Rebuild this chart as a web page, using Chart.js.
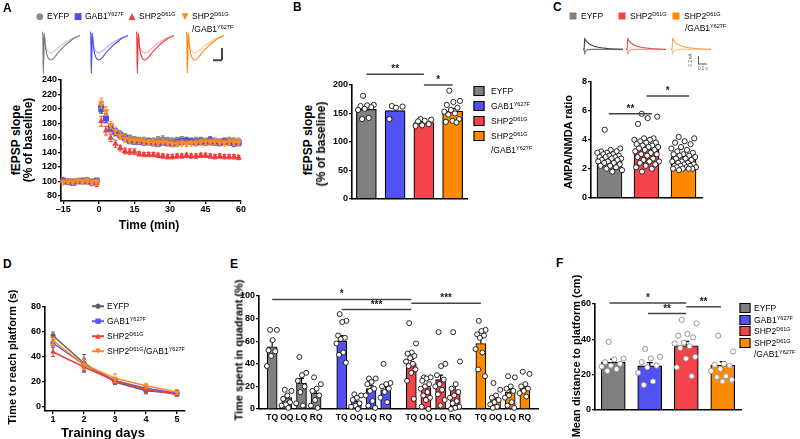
<!DOCTYPE html>
<html>
<head>
<meta charset="utf-8">
<script src="https://cdn.jsdelivr.net/npm/chart.js@4.4.1/dist/chart.umd.min.js"></script>
<style>
  body { margin: 0; background: #fff; }
  #fig { position: relative; width: 800px; height: 439px; overflow: hidden;
         font-family: "Liberation Sans", Arial, sans-serif; color: #000; }
  canvas { position: absolute; }
  .t { position: absolute; white-space: nowrap; line-height: 1; transform: translateY(-50%); }
  .c { position: absolute; white-space: nowrap; line-height: 1; transform: translate(-50%, -50%); font-weight: bold; }
  .r { position: absolute; white-space: nowrap; line-height: 1; transform: translate(-50%, -50%) rotate(-90deg); font-weight: bold; }
  .sw { position: absolute; transform: translate(-50%, -50%); }
  sup { font-size: 0.65em; line-height: 0; vertical-align: 0.55em; }
</style>
</head>
<body>
<div id="fig"></div>
<script>
// ---- data ----
const aTime = [-15,-13,-11,-9,-7,-5,-3,-1,1,3,5,7,9,11,13,15,17,19,21,23,25,27,29,31,33,35,37,39,41,43,45,47,49,51,53,55,57,59];
const aXTicks = [-15, 0, 15, 30, 45, 60];
const aYTicks = [80, 100, 120, 140, 160, 180, 200, 220, 240];
const aEyfp = [100,99,100,101,100,102,100,101, 203,187,172,168,165,162,160,158,157,157, 156,156,157,158,157,156,157,158,157,156, 157,157,156,157,156,155,156,157,156,155];
const aEyfpErr = [3,3,2,3,3,3,3,3, 8,6,5,5,5,4,4,4,4,4, 4,4,5,5,4,4,4,4,4,4, 4,4,4,5,4,4,4,4,4,5];
const aGab = [100,100,98,100,101,100,99,101, 200,187,175,168,164,160,156,155,155,154, 155,153,152,154,153,152,154,155,156,155, 154,155,154,156,154,153,155,154,153,153];
const aGabErr = [3,2,3,2,3,2,3,3, 6,6,5,5,4,4,4,4,4,4, 4,4,4,4,4,4,4,4,4,4, 4,4,4,5,4,4,4,4,5,4];
const aShp = [102,100,99,100,101,100,98,97, 183,170,160,152,146,142,141,141,138,137, 137,137,136,135,134,134,135,135,136,135, 135,136,136,135,134,135,134,134,134,133];
const aShpErr = [3,3,3,3,3,3,4,4, 7,6,5,5,4,4,4,4,3,3, 3,3,3,3,3,3,3,3,3,3, 3,3,3,3,3,3,3,3,3,3];
const aDbl = [99,100,99,101,100,101,99,100, 208,197,178,170,163,159,157,156,156,155, 154,154,153,154,153,152,152,153,152,153, 153,154,155,154,155,154,153,155,154,154];
const aDblErr = [3,3,3,3,3,3,3,3, 7,6,5,5,5,5,4,4,4,4, 4,4,4,4,4,4,4,4,4,4, 4,4,4,4,4,4,4,4,4,4];

// example sweeps drawn above panel A (baseline and after LTP)
const trT = [0, 0.3, 0.5, 0.8, 1.3, 2.2, 3.2, 4.5, 6, 8, 10, 12, 14];
const trLtp = [0, 0.05, -1, 0.02, -0.35, -0.6, -0.66, -0.6, -0.47, -0.32, -0.2, -0.1, -0.04];
const trBase = [0, 0.05, -1, 0.02, -0.28, -0.44, -0.48, -0.44, -0.35, -0.24, -0.15, -0.08, -0.03];

const bYTicks = [0, 50, 100, 150, 200];
const bMean = [157, 155, 134, 154];
const bSem = [4.5, 5.5, 2, 4.5];
const bDots = [
  [181, 165, 164, 163, 161, 158, 156, 142, 140],
  [163, 162, 160, 140],
  [140, 139, 137, 136, 131, 129, 128],
  [190, 172, 170, 165, 160, 156, 153, 150, 148, 140, 137, 135, 134]
];

// AMPA/NMDA sweeps (panel C)
const ctT = [0, 3, 4, 5, 7, 10, 15, 22, 32, 45, 60, 80, 100];
const ctUp = [0, 0, 1, 0.92, 0.8, 0.66, 0.5, 0.36, 0.24, 0.14, 0.08, 0.03, 0];
const ctDown = [0, 0, -0.45, -0.3, -0.15, -0.06, -0.02, 0, 0, 0, 0, 0, 0];

const cYTicks = [0, 2, 4, 6, 8];
const cMean = [2.78, 3.37, 2.83];
const cSem = [0.1, 0.14, 0.09];
const cDots = [
  [4.7, 3.4, 3.3, 3.2, 3.2, 3.1, 3.1, 3.0, 3.0, 2.9, 2.9, 2.8, 2.8, 2.8, 2.7, 2.7, 2.6, 2.6, 2.5, 2.5, 2.4, 2.4, 2.3, 2.2, 2.2, 2.1, 2.0, 1.9, 1.8],
  [5.8, 5.6, 5.5, 5.1, 4.1, 4.1, 4.0, 4.0, 3.9, 3.8, 3.8, 3.7, 3.6, 3.6, 3.5, 3.5, 3.4, 3.3, 3.3, 3.2, 3.1, 3.0, 3.0, 2.9, 2.8, 2.7, 2.6, 2.5, 2.5, 2.4, 2.3, 2.2, 2.1, 2.0, 1.8],
  [4.2, 4.1, 3.9, 3.8, 3.7, 3.5, 3.4, 3.3, 3.2, 3.1, 3.0, 3.0, 2.9, 2.9, 2.8, 2.7, 2.7, 2.6, 2.5, 2.5, 2.4, 2.4, 2.3, 2.3, 2.2, 2.2, 2.2, 2.1, 2.1, 2.1, 2.0, 2.0, 2.0, 2.0, 1.9]
];

const dDays = [1, 2, 3, 4, 5];
const dYTicks = [0, 20, 40, 60, 80];
const dEyfp = [57, 35, 20, 13, 11];
const dEyfpErr = [3, 7, 2, 2.5, 2];
const dGab = [51, 34, 21, 15, 11];
const dGabErr = [3, 5, 2, 2, 1.5];
const dShp = [44, 32, 21, 14, 10];
const dShpErr = [3.5, 4, 2, 2, 1.5];
const dDbl = [53, 34, 23, 17, 12];
const dDblErr = [3, 4, 3.5, 2, 2];

const eQuads = ['TQ', 'OQ', 'LQ', 'RQ'];
const eYTicks = [0, 20, 40, 60, 80, 100];
const eMean = [[55, 10, 23, 14], [60, 7, 18, 17], [40, 19, 26, 17], [58, 9, 15, 19]];
const eSem = [[5, 2, 4, 3], [5, 1.5, 3, 3], [4, 2.5, 4, 4], [5, 1.5, 2.5, 2]];
const eDots = [
  [[70, 70, 61, 52, 51, 47, 38], [17, 16, 12, 9, 6, 4, 3, 1], [46, 32, 30, 25, 20, 15, 5, 3], [28, 22, 18, 16, 12, 8, 3, 1]],
  [[84, 78, 77, 65, 63, 62, 58, 50, 48, 41], [13, 12, 10, 8, 5, 3, 2, 0], [27, 27, 24, 22, 18, 16, 12, 7, 3, 1], [40, 23, 22, 20, 18, 15, 10, 6]],
  [[76, 58, 50, 49, 47, 45, 42, 40, 38, 35, 32, 25, 9], [28, 28, 27, 25, 22, 20, 18, 15, 12, 10, 8, 2, 0], [68, 40, 38, 30, 26, 22, 20, 17, 13, 8, 3], [68, 42, 22, 18, 15, 12, 10, 7, 5, 2, 1, 0]],
  [[78, 70, 69, 66, 65, 63, 53, 50, 35, 29], [23, 17, 12, 10, 8, 6, 4, 2, 1], [29, 28, 20, 18, 16, 12, 10, 6, 3, 1], [33, 31, 22, 20, 18, 16, 14, 11]]
];

const fYTicks = [0, 20, 40, 60];
const fMean = [27, 24.8, 36.3, 25.2];
const fSem = [1.6, 1.9, 2.4, 2.0];
const fDots = [
  [38.5, 29, 28.5, 27, 26, 25, 24.5, 23, 22],
  [34.5, 30, 29, 27, 25, 24, 21, 16, 14],
  [51, 49, 43, 42, 41, 38, 37.5, 36, 35, 30, 29, 24, 19],
  [42, 33, 26, 25.5, 25, 23, 22, 19, 18.5, 17, 16]
];

// ---- style ----
const FONT = '"Liberation Sans", Arial, sans-serif';
const TICK = { family: FONT, size: 9, weight: 'bold' };
const GRAY = '#808080', BLUE = '#5252f2', RED = '#f5434b', ORANGE = '#ff8a00';
const COLORS = [GRAY, BLUE, RED, ORANGE];
Chart.defaults.font.family = FONT;
Chart.defaults.color = '#000';
Chart.defaults.animation = false;

const fig = document.getElementById('fig');

function mk(left, top, w, h) {
  const c = document.createElement('canvas');
  c.width = w; c.height = h;
  c.style.left = left + 'px'; c.style.top = top + 'px';
  fig.appendChild(c);
  return c;
}
// plot area l,t,r,b in page pixels; yw = y axis width, xh = x axis height
function frame(l, t, r, b, yw, xh, pt, pr) {
  return { canvas: mk(l - yw, t - pt, r - l + yw + pr, b - t + pt + xh), yw, xh, pt, pr };
}
function put(cls, html, x, y, css) {
  const d = document.createElement('div');
  d.className = cls; d.innerHTML = html;
  d.style.left = x + 'px'; d.style.top = y + 'px';
  if (css) d.style.cssText += css;
  fig.appendChild(d);
  return d;
}

const spreadAt = (i, n) => n < 2 ? 0 : ((i * 0.618034 + 0.31) % 1) - 0.5;

const errPlugin = {
  id: 'err',
  afterDatasetDraw(chart, args) {
    const ds = chart.data.datasets[args.index];
    if (!ds.errors) return;
    const ys = chart.scales[args.meta.yAxisID], ctx = chart.ctx;
    const cap = ds.errCap || 3;
    ctx.save();
    ctx.strokeStyle = ds.errColor || '#000';
    ctx.lineWidth = ds.errWidth || 1.2;
    args.meta.data.forEach((el, i) => {
      const e = ds.errors[i];
      if (e == null) return;
      const d = ds.data[i], v = typeof d === 'object' ? d.y : d;
      const y1 = ys.getPixelForValue(ds.errUp ? v : v - e), y2 = ys.getPixelForValue(v + e), x = el.x;
      ctx.beginPath();
      ctx.moveTo(x, y1); ctx.lineTo(x, y2);
      if (!ds.errUp) { ctx.moveTo(x - cap, y1); ctx.lineTo(x + cap, y1); }
      ctx.moveTo(x - cap, y2); ctx.lineTo(x + cap, y2);
      ctx.stroke();
    });
    ctx.restore();
  }
};

function sigPlugin(items) {
  return {
    id: 'sig',
    afterDraw(chart) {
      const ctx = chart.ctx, xs = chart.scales.x, ys = chart.scales.y;
      ctx.save();
      ctx.strokeStyle = '#444'; ctx.lineWidth = 1.5; ctx.fillStyle = '#222';
      ctx.font = 'bold 10px ' + FONT; ctx.textAlign = 'center'; ctx.textBaseline = 'alphabetic';
      items.forEach(([a, b, v, label]) => {
        const x1 = xs.getPixelForValue(a), x2 = xs.getPixelForValue(b), y = ys.getPixelForValue(v);
        ctx.beginPath(); ctx.moveTo(x1, y); ctx.lineTo(x2, y); ctx.stroke();
        ctx.fillText(label, (x1 + x2) / 2, y - 2);
      });
      ctx.restore();
    }
  };
}

function yAx(f, min, max, ticks) {
  return {
    type: 'linear', min, max,
    afterBuildTicks: s => { s.ticks = ticks.map(v => ({ value: v })); },
    afterFit: s => { s.width = f.yw; },
    ticks: { font: TICK, color: '#000', padding: 1 },
    grid: { drawOnChartArea: false, tickLength: 3, color: '#000', lineWidth: 1.3 },
    border: { color: '#000', width: 1.6 }
  };
}
function xLin(f, min, max, ticks, cb) {
  return {
    type: 'linear', min, max, offset: false,
    afterBuildTicks: s => { s.ticks = ticks.map(v => ({ value: v })); },
    afterFit: s => { s.height = f.xh; },
    ticks: { font: TICK, color: '#000', padding: 0, autoSkip: false, maxRotation: 0, callback: cb || (v => String(v)) },
    grid: { drawOnChartArea: false, offset: false, tickLength: 3, color: '#000', lineWidth: 1.3 },
    border: { color: '#000', width: 1.6 }
  };
}
// bare x axis (line only, no ticks or labels)
function xBare(f, min, max) {
  return {
    type: 'linear', min, max, offset: false,
    afterFit: s => { s.height = f.xh; },
    ticks: { display: false },
    grid: { display: false, drawTicks: false, offset: false },
    border: { color: '#000', width: 1.6 }
  };
}
function opts(f, scales) {
  return {
    responsive: false, animation: false, events: [],
    layout: { autoPadding: false, padding: { left: 0, top: f.pt, right: f.pr, bottom: 0 } },
    plugins: { legend: { display: false }, tooltip: { enabled: false } },
    scales
  };
}

function series(xs, ys, errs, color, style, r, rot, line) {
  return {
    data: xs.map((x, i) => ({ x, y: ys[i] })),
    errors: errs, errColor: color, errWidth: 1, errCap: 2,
    showLine: !!line, borderColor: color, borderWidth: 1.5,
    pointStyle: style, pointRadius: r, pointRotation: rot,
    pointBackgroundColor: color, pointBorderColor: color, pointBorderWidth: 0,
    clip: false
  };
}

function trace(left, top, w, h, xs, lines, yMin, yMax) {
  const c = mk(left, top, w, h);
  new Chart(c, {
    type: 'line',
    data: { datasets: lines.map(([ys, col]) => ({
      data: xs.map((x, i) => ({ x, y: ys[i] })), borderColor: col, borderWidth: 1.1,
      pointRadius: 0, cubicInterpolationMode: 'monotone', fill: false, clip: false })) },
    options: {
      responsive: false, animation: false, events: [],
      layout: { autoPadding: false, padding: 0 },
      plugins: { legend: { display: false }, tooltip: { enabled: false } },
      scales: {
        x: { type: 'linear', display: false, min: xs[0], max: xs[xs.length - 1] },
        y: { type: 'linear', display: false, min: yMin, max: yMax }
      }
    }
  });
}

// bars with mean + SEM and open circles for individual values
function barDot(f, cfg) {
  const n = cfg.means.length;
  const dots = [];
  cfg.dots.forEach((vals, g) => vals.forEach((v, i) =>
    dots.push({ x: g + spreadAt(i, vals.length) * cfg.spread, y: v })));
  new Chart(f.canvas, {
    type: 'bar',
    data: {
      datasets: [
        { type: 'scatter', data: dots, pointRadius: cfg.dotR,
          pointBorderWidth: 0.9, pointBackgroundColor: '#fff', pointBorderColor: cfg.dotColor,
          order: 0, clip: false },
        { type: 'bar', data: cfg.means.map((v, g) => ({ x: g, y: v })), backgroundColor: cfg.colors,
          borderColor: '#000', borderWidth: 1.2, barThickness: cfg.barW,
          errors: cfg.sems, errUp: true, errCap: 3, errWidth: 1.3, order: 1 }
      ]
    },
    options: opts(f, {
      x: xBare(f, -0.5, n - 0.5),
      y: yAx(f, cfg.yMin, cfg.yMax, cfg.yTicks)
    }),
    plugins: [errPlugin, sigPlugin(cfg.sig)]
  });
}

// ---- panel A ----
const fA = frame(61, 80, 241, 201, 30, 20, 8, 8);
new Chart(fA.canvas, {
  type: 'line',
  data: { datasets: [
    series(aTime, aDbl, aDblErr, '#ff8c1a', 'triangle', 4, 180),
    series(aTime, aGab, aGabErr, '#4d4df2', 'rect', 4.2, 0),
    series(aTime, aShp, aShpErr, '#f03c3c', 'triangle', 3.8, 0),
    series(aTime, aEyfp, aEyfpErr, '#8a8a8a', 'circle', 3.2, 0)
  ] },
  options: opts(fA, {
    x: xLin(fA, -16, 60, aXTicks, v => v < 0 ? '\u2013' + (-v) : String(v)),
    y: yAx(fA, 73, 240, aYTicks)
  }),
  plugins: [errPlugin]
});
[[42, '#7a7a7a', '#c8c8c8'], [90, '#4b4bf2', '#aaaaff'], [136, '#ee3a3a', '#f7a3a3'], [186, '#ff8a10', '#ffca92']]
  .forEach(([x, dark, light]) => trace(x, 31, 38, 43, trT, [[trLtp, dark], [trBase, light]], -1.02, 0.08));
put('t', '', 221, 54, 'width:1.5px;height:12px;background:#444;');
put('t', '', 213, 60, 'width:9px;height:1.5px;background:#444;');

// ---- panel B ----
barDot(frame(352, 85, 467, 199, 30, 6, 26, 6), {
  means: bMean, sems: bSem, dots: bDots, colors: COLORS,
  yMin: 0, yMax: 200, yTicks: bYTicks, barW: 20, dotR: 2.6, dotColor: '#111', spread: 0.6,
  sig: [[0, 2, 219, '**'], [2, 3, 200, '*']]
});

// ---- panel C ----
barDot(frame(591, 82, 702, 198, 30, 6, 20, 6), {
  means: cMean, sems: cSem, dots: cDots, colors: [GRAY, RED, ORANGE],
  yMin: 0, yMax: 8, yTicks: cYTicks, barW: 25, dotR: 2.6, dotColor: '#111', spread: 0.68,
  sig: [[-0.02, 1.15, 5.8, '**'], [1.0, 2.15, 7.03, '*']]
});
[[583, '#444', '#777'], [626, '#ee4a4a', '#f39a9a'], [671, '#ffa050', '#ffc894']]
  .forEach(([x, up, down]) => trace(x, 37, 40, 18, ctT, [[ctUp, up], [ctDown, down]], -0.5, 1.1));
put('t', '', 698, 60, 'width:1px;height:8px;background:#555;');
put('t', '', 698, 64, 'width:9px;height:1px;background:#555;');
put('r', '<span style="font-weight:normal">0.2 nA</span>', 691, 60, 'font-size:4.5px;color:#555;');
put('c', '<span style="font-weight:normal">0.1 s</span>', 703, 69, 'font-size:4.5px;color:#555;');

// ---- panel D ----
const fD = frame(45, 307, 185, 411, 30, 16, 8, 8);
new Chart(fD.canvas, {
  type: 'line',
  data: { datasets: [
    series(dDays, dDbl, dDblErr, '#ff8c1a', 'triangle', 3.2, 180, true),
    series(dDays, dShp, dShpErr, '#f03c3c', 'triangle', 3.2, 0, true),
    series(dDays, dGab, dGabErr, '#5a5af2', 'rect', 3.4, 0, true),
    series(dDays, dEyfp, dEyfpErr, '#5e5e5e', 'circle', 2.6, 0, true)
  ] },
  options: opts(fD, {
    x: xLin(fD, 0.74, 5.26, dDays),
    y: yAx(fD, -3.2, 80, dYTicks)
  }),
  plugins: [errPlugin]
});

// ---- panel E ----
const GROUP_STEP = 4.75;
const ePos = (g, q) => g * GROUP_STEP + q;
const fE = frame(259, 296, 538, 409, 30, 18, 16, 6);
const eBars = eMean.flatMap((row, g) => row.map((v, q) => ({ x: ePos(g, q), y: v })));
const eDotPts = eDots.flatMap((row, g) => row.flatMap((vals, q) =>
  vals.map((v, i) => ({ x: ePos(g, q) + spreadAt(i, vals.length) * 0.75, y: v }))));
const eX = xLin(fE, -0.9, 18.15, eBars.map(p => p.x));
eX.grid = { display: false, drawTicks: false };
eX.ticks = { font: { family: FONT, size: 8.5, weight: 'bold' }, color: '#000', padding: 4,
             autoSkip: false, maxRotation: 0, callback: (v, i) => eQuads[i % 4] };
new Chart(fE.canvas, {
  type: 'bar',
  data: { datasets: [
    { type: 'scatter', data: eDotPts, pointRadius: 2.5, pointBorderWidth: 0.9,
      pointBackgroundColor: '#fff', pointBorderColor: '#111', order: 0, clip: false },
    { type: 'bar', data: eBars, backgroundColor: eMean.flatMap((row, g) => row.map(() => COLORS[g])),
      borderColor: '#000', borderWidth: 1.1, barThickness: 10,
      errors: eSem.flat(), errUp: true, errCap: 2.5, errWidth: 1.2, order: 1 }
  ] },
  options: opts(fE, { x: eX, y: yAx(fE, 0, 100, eYTicks) }),
  plugins: [errPlugin, sigPlugin([[ePos(0, 0), ePos(2, 0), 97, '*'], [ePos(1, 0), ePos(2, 0), 88, '***'], [ePos(2, 0), ePos(3, 0), 93.6, '***']])]
});

// ---- panel F ----
barDot(frame(595, 304, 741, 410, 30, 6, 16, 6), {
  means: fMean, sems: fSem, dots: fDots, colors: COLORS,
  yMin: 0, yMax: 60, yTicks: fYTicks, barW: 24, dotR: 2.6, dotColor: '#8a8a8a', spread: 0.66,
  sig: [[-0.1, 2.0, 60.6, '*'], [0.95, 2.0, 54.6, '**'], [2.0, 2.95, 58.4, '**']]
});

// ---- text: panel letters ----
[['A', 3, 8], ['B', 293, 7], ['C', 553, 7], ['D', 3, 264], ['E', 230, 264], ['F', 556, 263]]
  .forEach(([s, x, y]) => put('t', s, x, y, 'font-weight:bold;font-size:12px;'));

// ---- axis titles ----
put('r', 'fEPSP slope', 16, 140, 'font-size:12px;');
put('r', '(% of baseline)', 28, 140, 'font-size:12px;');
put('c', 'Time (min)', 149, 225, 'font-size:12px;');
put('r', 'fEPSP slope', 308, 140, 'font-size:12px;');
put('r', '(% of baseline)', 321, 144, 'font-size:12px;');
put('r', 'AMPA/NMDA ratio', 568, 142, 'font-size:11px;');
put('r', 'Time to reach platform (s)', 12, 357, 'font-size:11px;');
put('c', 'Training days', 103, 432, 'font-size:13px;');
put('r', 'Time spent in quadrant (%)', 239, 350, 'font-size:11px;');
put('r', 'Mean distance to platform (cm)', 576, 356, 'font-size:11px;');

// ---- legends ----
const LEG = 'font-size:8.5px;';
// A
[[40, '#8a8a8a', '\u25CF', 'EYFP'], [78, '#4d4df2', '\u25A0', 'GAB1<sup>Y627F</sup>'],
 [132, '#f03c3c', '\u25B2', 'SHP2<sup>D61G</sup>'], [185, '#ff8c1a', '\u25BC', 'SHP2<sup>D61G</sup>']]
  .forEach(([x, col, g, s]) => {
    put('c', g, x, 16, 'font-size:9px;font-weight:normal;color:' + col + ';font-family:"DejaVu Sans";');
    put('t', s, x + 7, 16, LEG);
  });
put('t', '/GAB1<sup>Y627F</sup>', 192, 29, LEG);
// B
[['EYFP', GRAY], ['GAB1<sup>Y627F</sup>', BLUE], ['SHP2<sup>D61G</sup>', RED], ['SHP2<sup>D61G</sup>', ORANGE]]
  .forEach(([s, col], i) => {
    const y = 91 + i * 14.9;
    put('sw', '', 479, y, 'width:9px;height:8px;border:1px solid #000;background:' + col + ';');
    put('t', s, 491, y, LEG);
  });
put('t', '/GAB1<sup>Y627F</sup>', 491, 150, LEG);
// C
[[573, 'EYFP', GRAY], [622, 'SHP2<sup>D61G</sup>', RED], [676, 'SHP2<sup>D61G</sup>', ORANGE]]
  .forEach(([x, s, col]) => {
    put('sw', '', x, 16, 'width:7px;height:7px;background:' + col + ';');
    put('t', s, x + 8, 16, LEG);
  });
put('t', '/GAB1<sup>Y627F</sup>', 685, 28, LEG);
// D
[['#5e5e5e', '\u25CF', 'EYFP'], ['#5a5af2', '\u25A0', 'GAB1<sup>Y627F</sup>'],
 ['#f03c3c', '\u25B2', 'SHP2<sup>D61G</sup>'], ['#ff8c1a', '\u25BC', 'SHP2<sup>D61G</sup>/GAB1<sup>Y627F</sup>']]
  .forEach(([col, g, s], i) => {
    const y = 306 + i * 15;
    put('t', '', 92, y, 'width:12px;height:1.5px;background:' + col + ';');
    put('c', g, 98, y, 'font-size:7px;font-weight:normal;color:' + col + ';font-family:"DejaVu Sans";');
    put('t', s, 107, y, LEG);
  });
// F
[['EYFP', GRAY], ['GAB1<sup>Y627F</sup>', BLUE], ['SHP2<sup>D61G</sup>', RED], ['SHP2<sup>D61G</sup>', ORANGE]]
  .forEach(([s, col], i) => {
    const y = 308 + i * 11.5;
    put('sw', '', 745, y, 'width:9px;height:8px;border:1px solid #000;background:' + col + ';');
    put('t', s, 754, y, LEG);
  });
put('t', '/GAB1<sup>Y627F</sup>', 754, 354, LEG);
</script>
</body>
</html>
